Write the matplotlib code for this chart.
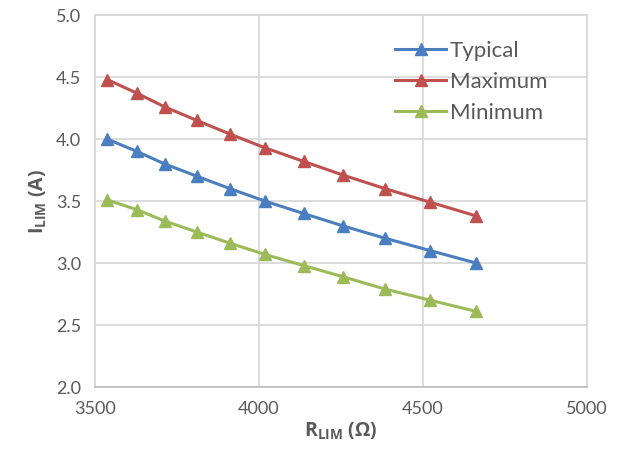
import matplotlib
matplotlib.use("Agg")
import matplotlib.pyplot as plt

plt.rcParams['font.family'] = ['Lato', 'DejaVu Sans']
plt.rcParams['mathtext.fontset'] = 'custom'
plt.rcParams['mathtext.rm'] = 'Open Sans'
plt.rcParams['mathtext.bf'] = 'Open Sans:bold'

# data
r_lim = [3537, 3628, 3712, 3811, 3912, 4018, 4136, 4256, 4385, 4523, 4663]
typical = [4.00, 3.90, 3.80, 3.70, 3.60, 3.50, 3.40, 3.30, 3.20, 3.10, 3.00]
maximum = [4.48, 4.37, 4.26, 4.15, 4.04, 3.93, 3.82, 3.71, 3.60, 3.49, 3.38]
minimum = [3.51, 3.43, 3.34, 3.25, 3.16, 3.07, 2.98, 2.89, 2.79, 2.70, 2.61]

x_ticks = [3500, 4000, 4500, 5000]
y_ticks = [2.0, 2.5, 3.0, 3.5, 4.0, 4.5, 5.0]

series = [
    ("Typical", typical, "#4A7EBF"),
    ("Maximum", maximum, "#C0504D"),
    ("Minimum", minimum, "#9BBB59"),
]

fig = plt.figure(figsize=(6.19, 4.57), dpi=100)
ax = fig.add_axes([0.1535, 0.153, 0.7945, 0.814])

for name, vals, col in series:
    ax.plot(r_lim, vals, color=col, lw=2.2, marker="^", ms=9, label=name)

ax.set_xlim(3500, 5000)
ax.set_ylim(2.0, 5.0)
ax.set_xticks(x_ticks)
ax.set_yticks(y_ticks)
ax.set_yticklabels([f"{v:.1f}" for v in y_ticks])
ax.grid(True, color="#D9D9D9", lw=1.3)
ax.set_axisbelow(True)
for s in ax.spines.values():
    s.set_color("#D9D9D9")
    s.set_linewidth(1.3)
ax.spines["bottom"].set_color("#BFBFBF")
ax.tick_params(length=0, labelsize=13, colors="#595959", pad=10)

lab = dict(fontsize=14, fontweight="bold", color="#595959", family="Open Sans")
ax.set_xlabel(r"$\mathbf{R_{LIM}}$ (Ω)", labelpad=3, **lab)
ax.set_ylabel(r"$\mathbf{I_{LIM}}$ (A)", labelpad=5, **lab)

leg = ax.legend(loc="upper right", bbox_to_anchor=(0.96, 0.985), frameon=False,
                fontsize=16, handlelength=2.3, handletextpad=0.15,
                labelspacing=0.5)
for t in leg.get_texts():
    t.set_color("#595959")

fig.savefig("out.png", dpi=100)
